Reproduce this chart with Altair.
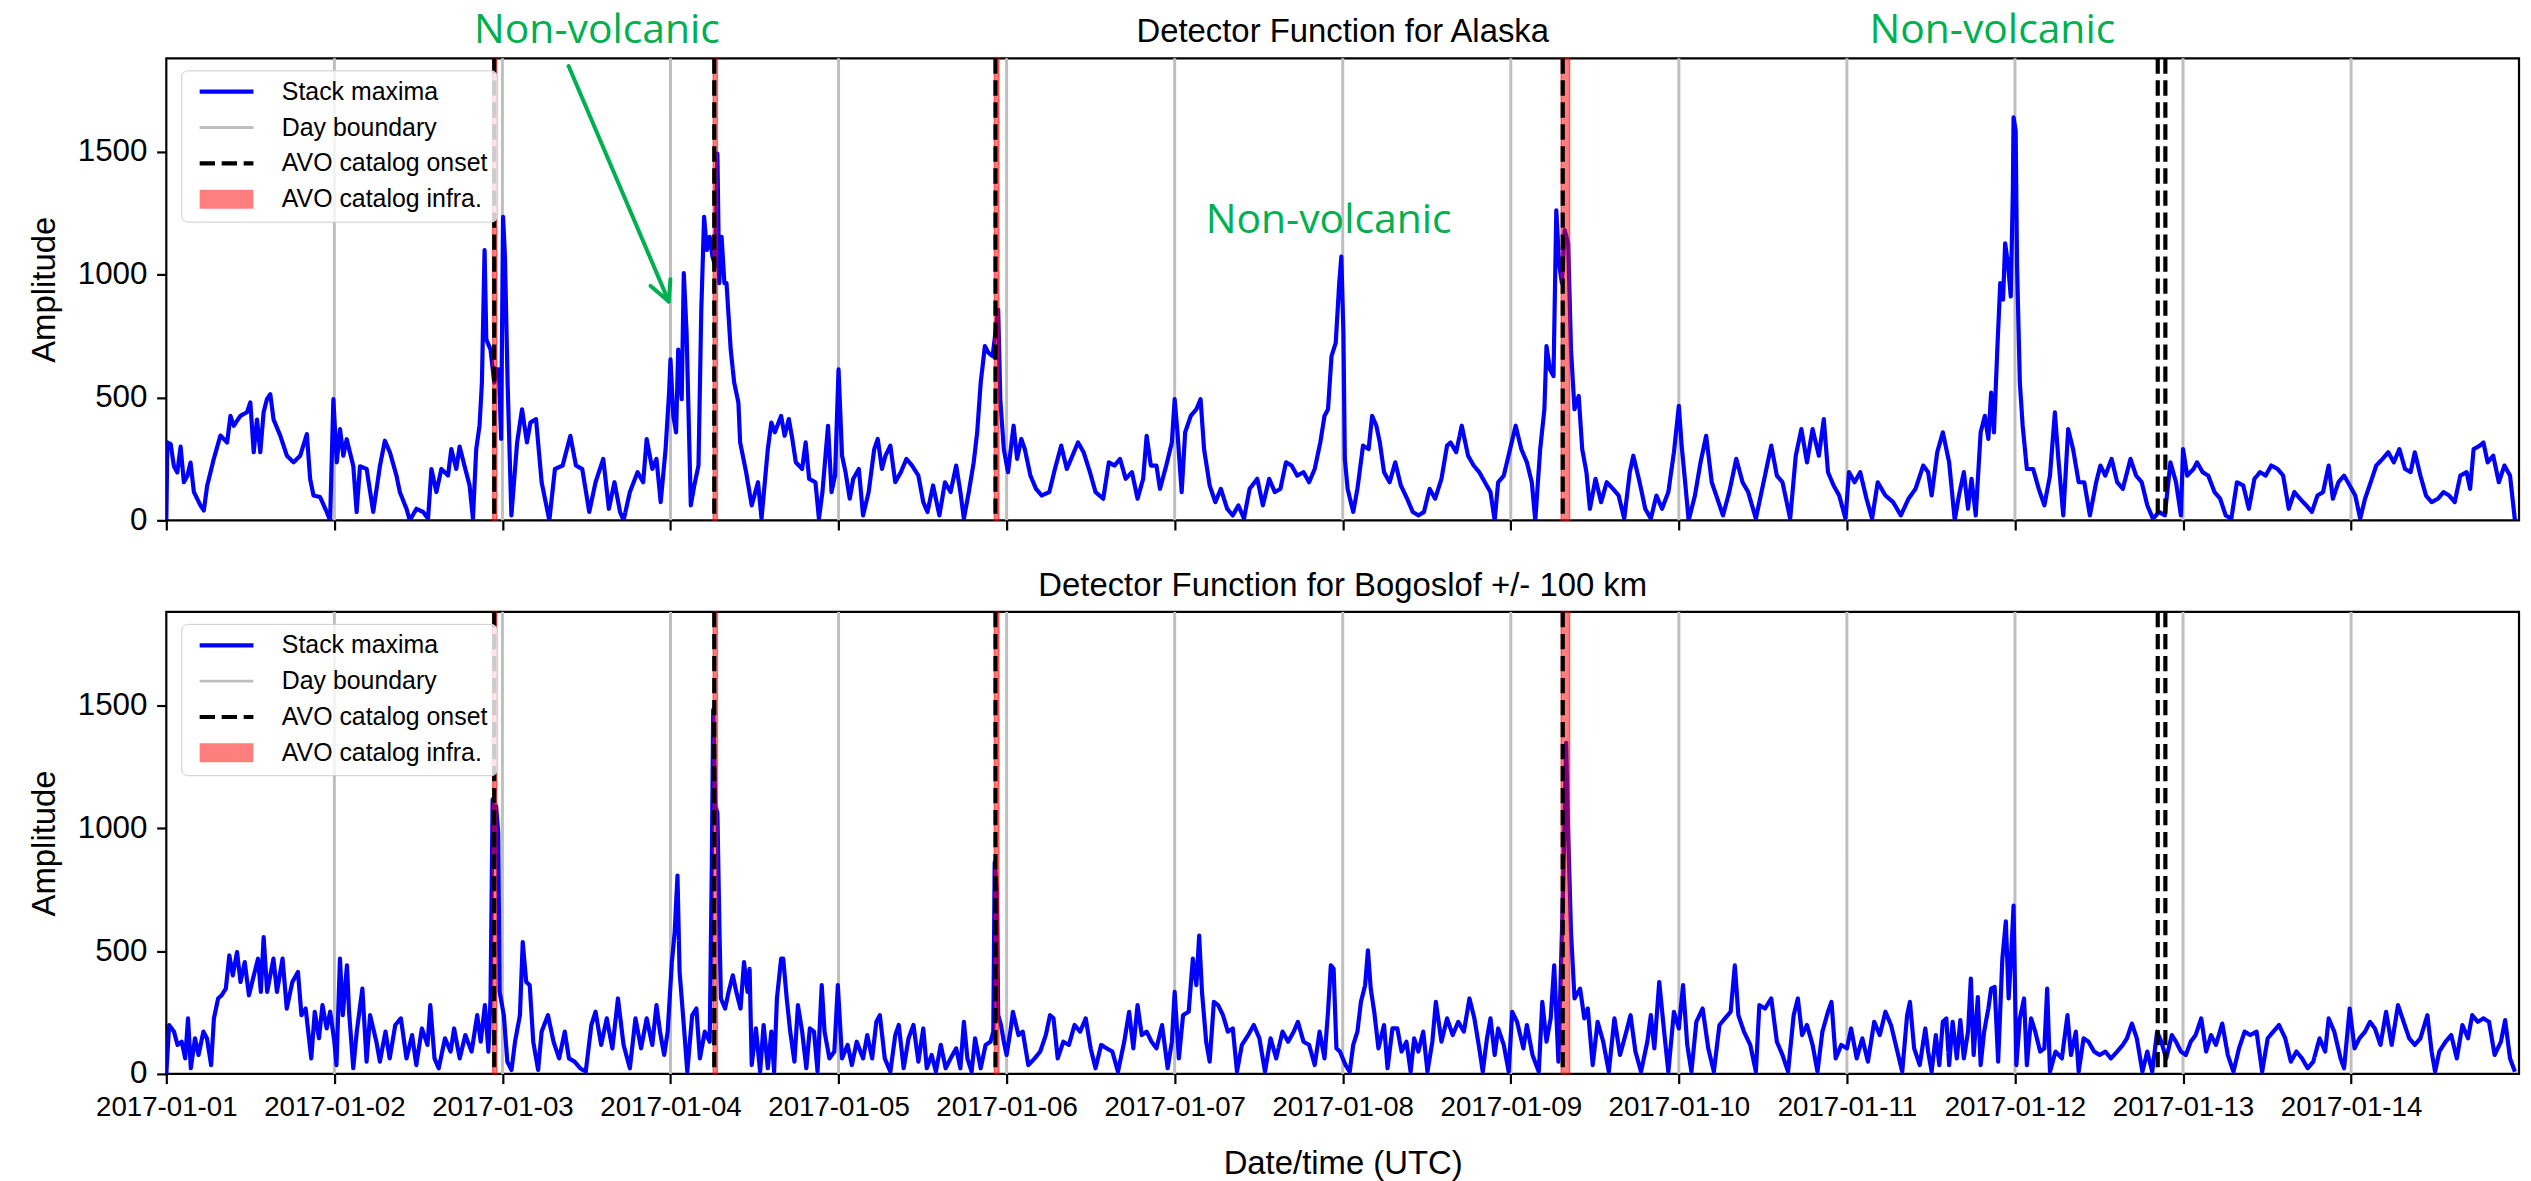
import altair as alt
import pandas as pd

START = pd.Timestamp("2017-01-01 00:00:00")

# Stack maxima, Alaska detector: (hours since 2017-01-01 00:00, amplitude)
alaska_series = [
    (0.0, 0), (0.15, 317), (0.62, 310), (1.09, 220), (1.57, 195), (2.04, 300), (2.51, 155), (2.99, 180),
    (3.46, 235), (3.94, 115), (4.41, 88), (4.89, 60), (5.36, 40), (5.83, 140), (6.78, 250), (7.73, 345),
    (8.68, 317), (9.16, 425), (9.63, 385), (10.58, 425), (11.53, 440), (12.0, 480), (12.48, 277), (12.95, 410),
    (13.42, 277), (13.9, 440), (14.37, 493), (14.85, 513), (15.32, 410), (16.27, 345), (17.22, 263), (18.17, 236),
    (19.12, 263), (20.07, 351), (20.54, 169), (21.02, 101), (21.96, 95), (22.91, 34), (23.39, 0), (23.86, 493),
    (24.34, 236), (24.81, 371), (25.28, 263), (25.76, 330), (26.71, 220), (27.18, 34), (27.66, 220), (28.61, 209),
    (29.55, 34), (30.5, 220), (31.21, 324), (31.93, 277), (32.87, 182), (33.35, 115), (34.3, 47), (34.77, 0),
    (35.72, 47), (36.67, 34), (37.38, 7), (37.86, 209), (38.57, 115), (39.28, 209), (40.23, 182), (40.7, 290),
    (41.41, 209), (41.89, 300), (42.6, 220), (43.31, 142), (43.79, 7), (44.26, 290), (44.73, 385), (45.07, 560),
    (45.45, 1100), (45.7, 736), (46.3, 695), (46.83, 560), (47.1, 614), (47.5, 614), (47.81, 331), (48.09, 1235),
    (48.36, 1073), (48.74, 560), (49.28, 20), (50.1, 317), (50.8, 452), (51.5, 317), (52.0, 398), (52.8, 412),
    (53.6, 155), (54.7, 0), (55.5, 209), (56.6, 223), (57.7, 344), (58.5, 223), (59.4, 209), (60.4, 34),
    (61.3, 155), (62.4, 250), (63.2, 47), (64.0, 155), (64.8, 34), (65.3, 0), (66.2, 115), (67.3, 196),
    (68.1, 155), (68.6, 331), (69.4, 209), (70.0, 250), (70.6, 74), (71.3, 290), (71.8, 520), (72.0, 655),
    (72.4, 425), (72.8, 358), (73.1, 695), (73.6, 493), (73.9, 1006), (74.3, 763), (74.9, 61), (75.4, 142),
    (76.0, 223), (76.4, 857), (76.8, 1235), (77.2, 1100), (77.6, 1154), (78.0, 1073), (78.4, 1033), (78.7, 1492),
    (78.96, 965), (79.3, 1154), (79.7, 965), (80.0, 965), (80.6, 695), (81.1, 560), (81.7, 479), (81.95, 317),
    (82.8, 196), (83.6, 61), (84.5, 155), (85.0, 7), (85.9, 290), (86.4, 398), (86.9, 358), (87.8, 425),
    (88.3, 344), (88.9, 412), (89.4, 331), (89.9, 236), (90.8, 209), (91.3, 317), (91.8, 169), (92.7, 155),
    (93.2, 7), (93.7, 115), (94.5, 385), (95.0, 115), (95.5, 182), (96.0, 614), (96.5, 263), (97.0, 196),
    (97.6, 88), (98.1, 169), (98.9, 209), (99.5, 20), (100.3, 115), (101.1, 290), (101.6, 331), (102.2, 209),
    (102.7, 263), (103.4, 304), (104.1, 155), (104.9, 196), (105.7, 250), (106.5, 223), (107.4, 182), (108.1, 74),
    (108.7, 34), (109.5, 142), (110.4, 20), (111.2, 155), (112.0, 115), (112.8, 223), (113.4, 115), (113.9, 7),
    (114.6, 115), (115.3, 236), (115.8, 358), (116.3, 560), (116.9, 709), (117.4, 682), (118.0, 668), (118.4, 763),
    (118.8, 857), (119.1, 493), (119.6, 290), (120.2, 196), (121.0, 385), (121.5, 250), (122.1, 331), (122.6, 290),
    (123.4, 182), (124.2, 128), (125.0, 101), (126.1, 115), (126.9, 209), (127.8, 304), (128.6, 209), (129.4, 263),
    (130.2, 317), (131.0, 277), (131.9, 196), (132.7, 115), (133.8, 88), (134.6, 236), (135.4, 223), (136.2, 250),
    (137.0, 169), (137.9, 196), (138.7, 88), (139.5, 169), (140.0, 344), (140.6, 223), (141.4, 223), (141.9, 128),
    (142.8, 223), (143.6, 317), (144.0, 493), (144.4, 358), (145.0, 115), (145.5, 358), (146.3, 425), (147.1, 452),
    (147.7, 493), (148.2, 290), (149.0, 142), (149.8, 74), (150.6, 128), (151.5, 47), (152.3, 20), (153.1, 61),
    (153.9, 7), (154.7, 128), (155.8, 169), (156.6, 61), (157.5, 169), (158.3, 115), (159.1, 128), (159.9, 236),
    (160.7, 223), (161.5, 182), (162.4, 196), (163.2, 155), (164.0, 209), (164.8, 317), (165.4, 425), (165.9, 452),
    (166.4, 668), (167.0, 722), (167.5, 965), (167.8, 1073), (168.1, 763), (168.3, 250), (168.7, 128), (169.5, 34),
    (170.1, 128), (170.9, 304), (171.7, 290), (172.2, 425), (172.8, 385), (173.3, 317), (173.9, 196), (174.7, 155),
    (175.5, 236), (176.3, 142), (177.2, 88), (178.0, 34), (178.8, 20), (179.6, 34), (180.4, 128), (181.2, 88),
    (182.1, 169), (182.9, 304), (183.4, 317), (184.2, 277), (185.0, 385), (185.9, 263), (186.7, 223), (187.5, 196),
    (188.3, 155), (189.1, 115), (189.7, 0), (190.2, 155), (191.0, 182), (191.9, 290), (192.7, 385), (193.5, 290),
    (194.3, 236), (195.0, 155), (195.5, 0), (196.2, 290), (196.8, 452), (197.1, 709), (197.6, 614), (198.1, 587),
    (198.5, 1262), (198.9, 1046), (199.3, 965), (199.7, 1181), (200.2, 1127), (200.6, 695), (201.1, 452), (201.7, 506),
    (202.2, 290), (202.8, 196), (203.3, 47), (204.1, 169), (204.9, 74), (205.7, 155), (206.6, 128), (207.4, 101),
    (208.2, 7), (209.0, 196), (209.5, 263), (210.4, 155), (211.2, 47), (212.0, 7), (212.8, 101), (213.6, 47),
    (214.5, 115), (215.3, 277), (216.0, 466), (216.4, 304), (216.9, 155), (217.4, 0), (218.3, 101), (219.1, 236),
    (219.9, 344), (220.7, 155), (221.5, 88), (222.3, 20), (223.2, 115), (224.2, 250), (225.1, 155), (225.9, 115),
    (227.0, 7), (228.1, 155), (229.2, 304), (230.0, 182), (230.8, 155), (231.9, 7), (232.7, 263), (233.5, 371),
    (234.3, 236), (235.1, 371), (236.0, 263), (236.7, 412), (237.3, 196), (238.1, 142), (238.9, 101), (239.8, 7),
    (240.3, 196), (241.1, 155), (241.9, 196), (242.8, 88), (243.6, 7), (244.4, 155), (245.5, 101), (246.6, 74),
    (247.7, 20), (248.8, 88), (249.8, 128), (250.9, 223), (251.6, 196), (252.1, 101), (252.9, 277), (253.7, 358),
    (254.6, 236), (255.4, 0), (256.0, 101), (256.7, 196), (257.3, 47), (257.8, 169), (258.4, 20), (259.1, 358),
    (259.7, 425), (260.2, 331), (260.6, 520), (261.0, 358), (261.5, 709), (261.9, 965), (262.3, 898), (262.6, 1127),
    (263.0, 1046), (263.4, 911), (263.7, 1343), (263.8, 1640), (264.1, 1586), (264.3, 1033), (264.7, 560), (265.1, 385),
    (265.7, 209), (266.6, 209), (267.4, 128), (268.2, 61), (269.0, 182), (269.7, 439), (270.2, 250), (270.9, 20),
    (271.6, 371), (272.3, 290), (273.1, 155), (273.9, 155), (274.7, 20), (275.6, 155), (276.2, 223), (276.9, 182),
    (277.8, 250), (278.6, 155), (279.4, 128), (280.5, 250), (281.3, 182), (282.1, 155), (282.9, 61), (283.7, 7),
    (284.6, 34), (285.4, 20), (286.2, 236), (287.0, 155), (287.7, 20), (288.0, 290), (288.6, 182), (289.5, 209),
    (290.0, 236), (290.8, 196), (291.6, 182), (292.5, 115), (293.3, 88), (294.1, 20), (294.9, 7), (295.7, 155),
    (296.6, 142), (297.4, 47), (298.2, 169), (299.0, 196), (299.8, 182), (300.6, 223), (301.5, 209), (302.3, 182),
    (303.1, 47), (303.9, 115), (304.7, 88), (305.6, 61), (306.4, 34), (307.2, 101), (308.0, 115), (308.8, 223),
    (309.4, 88), (310.2, 155), (311.0, 182), (311.8, 142), (312.6, 101), (313.3, 7), (314.0, 88), (314.8, 155),
    (315.6, 223), (316.5, 250), (317.3, 277), (318.1, 236), (318.9, 290), (319.7, 209), (320.5, 196), (321.1, 277),
    (321.9, 182), (322.7, 101), (323.5, 74), (324.4, 88), (325.2, 115), (326.0, 101), (326.8, 74), (327.6, 182),
    (328.5, 196), (329.0, 128), (329.5, 290), (330.4, 304), (330.9, 317), (331.5, 236), (332.3, 263), (333.1, 155),
    (333.9, 223), (334.7, 182), (335.4, 0),
]

# Stack maxima, Bogoslof +/- 100 km detector
bogoslof_series = [
    (0.0, 0), (0.4, 199), (1.1, 172), (1.6, 118), (2.2, 131), (2.7, 63), (3.1, 226), (3.5, 23),
    (4.1, 145), (4.6, 77), (5.3, 172), (5.8, 145), (6.4, 36), (6.8, 226), (7.4, 307), (7.9, 320),
    (8.5, 347), (9.0, 482), (9.5, 401), (10.1, 496), (10.6, 374), (11.2, 455), (11.8, 320), (12.5, 401),
    (13.1, 469), (13.5, 334), (13.9, 557), (14.4, 334), (15.3, 469), (15.8, 334), (16.6, 469), (17.2, 266),
    (18.0, 374), (18.8, 415), (19.3, 239), (19.9, 266), (20.7, 63), (21.2, 253), (21.8, 145), (22.3, 280),
    (22.9, 185), (23.4, 253), (24.0, 131), (24.3, 36), (24.8, 469), (25.2, 239), (25.8, 442), (26.1, 253),
    (26.7, 23), (27.2, 172), (28.0, 347), (28.6, 50), (29.1, 239), (30.0, 131), (30.5, 50), (31.3, 172),
    (31.9, 63), (32.7, 199), (33.5, 226), (34.3, 63), (35.1, 158), (35.7, 36), (36.5, 185), (37.3, 118),
    (37.7, 280), (38.3, 63), (38.9, 23), (39.8, 145), (40.6, 91), (41.1, 185), (41.9, 63), (42.7, 158),
    (43.6, 91), (44.4, 239), (44.9, 131), (45.5, 280), (46.0, 91), (46.3, 307), (46.6, 1117), (46.8, 874),
    (47.1, 1090), (47.4, 982), (47.6, 334), (48.2, 239), (48.7, 50), (49.3, 16), (49.8, 131), (50.5, 239),
    (50.9, 536), (51.4, 374), (51.9, 361), (52.4, 131), (53.1, 16), (53.6, 172), (54.5, 239), (55.3, 131),
    (56.1, 63), (56.9, 172), (57.5, 63), (58.3, 50), (59.1, 23), (59.9, 9), (60.7, 199), (61.3, 253),
    (62.1, 118), (62.9, 226), (63.7, 104), (64.5, 307), (65.3, 118), (66.2, 23), (67.0, 226), (67.8, 104),
    (68.6, 226), (69.4, 118), (70.0, 280), (70.5, 172), (71.1, 77), (71.6, 172), (72.2, 455), (72.6, 577),
    (73.0, 807), (73.3, 415), (73.9, 199), (74.4, 9), (75.1, 239), (75.7, 266), (76.2, 63), (76.9, 172),
    (77.6, 131), (77.9, 847), (78.1, 1482), (78.4, 1090), (78.7, 1063), (79.0, 577), (79.2, 307), (79.8, 266),
    (80.3, 334), (80.9, 401), (81.4, 334), (82.0, 266), (82.5, 455), (83.0, 334), (83.3, 428), (83.6, 36),
    (84.2, 185), (84.8, 9), (85.3, 199), (85.9, 23), (86.4, 172), (86.8, 9), (87.2, 307), (87.8, 469),
    (88.1, 469), (88.6, 307), (89.1, 172), (89.7, 50), (90.2, 280), (90.8, 172), (91.4, 23), (91.9, 185),
    (92.5, 172), (93.0, 9), (93.6, 361), (94.0, 172), (94.7, 63), (95.4, 91), (95.9, 361), (96.5, 63),
    (97.3, 118), (97.9, 36), (98.6, 131), (99.5, 63), (100.1, 158), (100.8, 63), (101.4, 212), (101.9, 239),
    (102.6, 63), (103.4, 9), (104.1, 158), (104.6, 199), (105.3, 23), (106.0, 145), (106.7, 199), (107.4, 50),
    (108.1, 185), (108.6, 23), (109.3, 77), (109.9, 9), (110.6, 118), (111.3, 23), (112.0, 63), (112.8, 104),
    (113.4, 23), (113.9, 212), (114.4, 63), (115.0, 9), (115.5, 145), (116.3, 23), (117.0, 118), (117.7, 131),
    (118.1, 172), (118.3, 861), (118.6, 753), (118.8, 239), (119.2, 199), (119.6, 131), (120.0, 77), (120.6, 185),
    (120.9, 253), (121.7, 158), (122.3, 172), (123.1, 36), (124.0, 63), (124.8, 91), (125.6, 158), (126.2, 239),
    (126.7, 226), (127.3, 63), (128.1, 131), (128.9, 118), (129.7, 199), (130.5, 172), (131.3, 226), (132.0, 104),
    (132.7, 23), (133.5, 118), (134.3, 104), (135.1, 91), (135.9, 9), (136.8, 131), (137.5, 253), (138.1, 104),
    (138.7, 280), (139.3, 158), (140.0, 172), (140.7, 131), (141.4, 104), (142.2, 199), (143.0, 23), (143.6, 131),
    (144.0, 334), (144.6, 63), (145.2, 239), (146.0, 253), (146.6, 469), (147.1, 361), (147.5, 563), (147.9, 334),
    (148.5, 131), (149.0, 50), (149.6, 293), (150.2, 280), (150.9, 239), (151.6, 172), (152.3, 185), (152.9, 9),
    (153.6, 118), (154.5, 158), (155.3, 199), (156.1, 145), (156.9, 9), (157.7, 145), (158.5, 63), (159.4, 172),
    (160.2, 131), (161.0, 172), (161.6, 212), (162.4, 131), (163.2, 118), (164.0, 36), (164.7, 172), (165.4, 63),
    (165.9, 253), (166.3, 442), (166.7, 428), (167.1, 104), (167.6, 91), (168.4, 36), (169.0, 9), (169.5, 118),
    (170.1, 172), (170.6, 293), (171.2, 361), (171.6, 503), (172.0, 347), (172.5, 253), (173.1, 104), (173.9, 199),
    (174.4, 23), (175.1, 185), (175.8, 185), (176.4, 91), (177.1, 131), (177.7, 9), (178.2, 145), (178.8, 91),
    (179.5, 172), (180.1, 9), (180.8, 131), (181.3, 293), (182.1, 131), (182.9, 226), (183.7, 158), (184.5, 212),
    (185.3, 172), (186.1, 307), (186.8, 226), (187.5, 104), (188.0, 9), (188.6, 145), (189.1, 226), (189.7, 77),
    (190.2, 185), (191.0, 118), (191.7, 9), (192.2, 253), (192.9, 212), (193.8, 104), (194.3, 199), (195.1, 77),
    (196.0, 9), (196.5, 293), (197.1, 131), (197.7, 226), (198.2, 442), (198.8, 50), (199.2, 469), (199.5, 780),
    (199.9, 1347), (200.2, 982), (200.6, 577), (201.1, 307), (201.9, 347), (202.5, 226), (203.0, 266), (203.7, 36),
    (204.4, 212), (205.2, 131), (206.0, 9), (206.8, 226), (207.6, 77), (208.5, 172), (209.1, 239), (209.8, 91),
    (210.6, 9), (211.5, 131), (212.0, 239), (212.5, 104), (213.2, 374), (213.9, 172), (214.5, 9), (215.3, 253),
    (216.0, 185), (216.6, 361), (217.2, 118), (217.8, 9), (218.5, 212), (219.4, 266), (220.2, 104), (221.0, 9),
    (221.8, 199), (222.6, 226), (223.4, 253), (224.0, 442), (224.5, 239), (225.3, 172), (226.2, 118), (227.0, 9),
    (227.5, 280), (228.3, 266), (229.2, 307), (230.0, 131), (230.8, 77), (231.6, 9), (232.4, 239), (233.0, 307),
    (233.6, 158), (234.3, 199), (235.1, 118), (235.8, 9), (236.5, 172), (237.3, 253), (237.8, 293), (238.4, 63),
    (239.2, 118), (240.0, 104), (240.6, 185), (241.4, 63), (242.2, 145), (243.0, 50), (243.9, 212), (244.7, 158),
    (245.5, 253), (246.3, 199), (247.1, 104), (247.9, 9), (248.6, 239), (249.0, 293), (249.6, 104), (250.4, 36),
    (251.2, 185), (251.6, 91), (252.1, 9), (252.7, 158), (253.2, 36), (253.7, 212), (254.2, 226), (254.6, 36),
    (255.1, 212), (255.7, 63), (256.2, 219), (256.7, 63), (257.3, 172), (257.7, 388), (258.1, 77), (258.7, 313),
    (259.1, 36), (259.6, 172), (260.2, 266), (260.6, 347), (261.1, 354), (261.6, 50), (262.2, 469), (262.7, 621),
    (263.1, 307), (263.5, 509), (263.8, 685), (264.2, 36), (264.7, 226), (265.3, 307), (265.7, 36), (266.3, 226),
    (266.9, 172), (267.6, 91), (268.2, 104), (268.6, 347), (269.0, 9), (269.8, 91), (270.7, 63), (271.5, 239),
    (272.0, 77), (272.7, 172), (273.1, 9), (273.8, 145), (274.5, 131), (275.3, 91), (276.1, 77), (276.9, 91),
    (277.7, 63), (278.6, 91), (279.4, 118), (280.0, 145), (280.7, 205), (281.4, 145), (282.2, 9), (282.9, 91),
    (283.6, 9), (284.3, 172), (284.9, 131), (285.6, 63), (286.4, 158), (287.0, 131), (287.7, 91), (288.4, 77),
    (289.1, 131), (289.8, 158), (290.6, 226), (291.3, 91), (292.0, 158), (292.7, 118), (293.6, 205), (294.4, 77),
    (295.2, 9), (296.0, 104), (296.8, 172), (297.6, 158), (298.5, 172), (299.3, 9), (300.1, 145), (300.9, 172),
    (301.7, 199), (302.6, 145), (303.4, 50), (304.2, 91), (305.0, 63), (305.8, 23), (306.6, 50), (307.5, 145),
    (308.3, 91), (308.8, 226), (309.6, 172), (310.5, 63), (311.0, 23), (311.8, 266), (312.5, 104), (313.2, 145),
    (314.0, 172), (314.7, 212), (315.4, 185), (316.2, 118), (317.0, 253), (317.8, 118), (318.7, 280), (319.5, 212),
    (320.3, 145), (321.1, 118), (321.9, 145), (322.9, 239), (323.5, 91), (324.0, 9), (324.6, 91), (325.5, 131),
    (326.3, 158), (327.1, 63), (327.9, 199), (328.7, 145), (329.3, 239), (330.1, 212), (330.9, 226), (331.7, 212),
    (332.5, 77), (333.4, 131), (334.0, 219), (334.7, 63), (335.4, 9),
]

# Vertical markers (hours since start)
day_boundary_hours = [24, 48, 72, 96, 120, 144, 168, 192, 216, 240, 264, 288, 312]
onset_hours = [46.83, 78.25, 118.41, 199.42, 284.39, 285.48]
infra_start_hours = [46.6, 78.1, 118.25, 199.2]
infra_end_hours = [47.2, 78.7, 118.9, 200.4]

# Panel titles (placed just above each panel, centred on the time axis)
panel_titles = ["Detector Function for Alaska", "Detector Function for Bogoslof +/- 100 km"]
title_hours = [168.0]
title_amp = [1945]

# Green annotations on the Alaska panel
note_labels = ["Non-volcanic", "Non-volcanic", "Non-volcanic"]
note_hours = [61.5, 165.99, 260.77]
note_amp = [1942, 1168, 1942]
arrow_h1 = [57.45, 71.75, 71.75]
arrow_a1 = [1849, 891, 891]
arrow_h2 = [71.75, 69.16, 71.99]
arrow_a2 = [891, 954, 981]

KINDS = ["Stack maxima", "Day boundary", "AVO catalog onset", "AVO catalog infra."]
Y_TICKS = [0, 500, 1000, 1500]

W, H = 2363, 464
FONT = "Liberation Sans"
GREEN = "#00B050"


def t(hours):
    return [START + pd.Timedelta(hours=h) for h in hours]


x_scale = alt.Scale(domain=[alt.DateTime(year=2017, month=1, date=1),
                            alt.DateTime(year=2017, month=1, date=14, hours=23, minutes=59)])
y_scale = alt.Scale(domain=[0, 1880], nice=False, zero=False)

legend = alt.Legend(
    title=None, orient="none", legendX=15, legendY=12, direction="vertical",
    symbolType="stroke", symbolSize=2916, clipHeight=25, labelFontSize=25, labelFont=FONT, labelColor="black",
    labelLimit=600, labelOffset=19, rowPadding=10, padding=9,
    fillColor="rgba(255,255,255,0.8)", strokeColor="#cccccc", cornerRadius=6,
)
color_enc = alt.Color("kind:N", scale=alt.Scale(domain=KINDS, range=["#0000ff", "#bfbfbf", "#000000", "#ff0000"]), legend=legend)
dash_enc = alt.StrokeDash("kind:N", scale=alt.Scale(domain=KINDS, range=[[1, 0], [1, 0], [15.4, 6.7], [1, 0]]), legend=legend)
sw_enc = alt.StrokeWidth("kind:N", scale=alt.Scale(type="ordinal", domain=KINDS, range=[4.2, 3, 4.2, 19]), legend=legend)
op_enc = alt.Opacity("kind:N", scale=alt.Scale(type="ordinal", domain=KINDS, range=[1, 1, 1, 0.5]), legend=legend)


def x_axis(bottom):
    if bottom:
        return alt.Axis(format="%Y-%m-%d", tickCount={"interval": "day", "step": 1}, labelFontSize=27.8,
                        labelFlush=False, labelOverlap=False, title="Date/time (UTC)", titleFontSize=33,
                        titleX=W / 2, titleY=100, titleBaseline="alphabetic", titleAlign="center")
    return alt.Axis(tickCount={"interval": "day", "step": 1}, labels=False, title=None)


y_axis = alt.Axis(values=Y_TICKS, format="d", labelFontSize=31.5, title="Amplitude", titleFontSize=33,
                  titleX=-112.4, titleY=H / 2, titleAngle=270, titleBaseline="alphabetic", titleAlign="center")


def panel(series, title, bottom, annotate):
    xa = x_axis(bottom)
    ttl = "Date/time (UTC)" if bottom else None

    def X(f):
        return alt.X(f, type="temporal", scale=x_scale, axis=xa, title=ttl)

    def Y(f):
        return alt.Y(f, type="quantitative", scale=y_scale, axis=y_axis, title="Amplitude")

    line_df = pd.DataFrame({"time": t([p[0] for p in series]), "amp": [p[1] for p in series], "kind": "Stack maxima"})
    day_df = pd.DataFrame({"time": t(day_boundary_hours), "kind": "Day boundary"})
    onset_df = pd.DataFrame({"time": t(onset_hours), "kind": "AVO catalog onset"})
    infra_df = pd.DataFrame({"start": t(infra_start_hours), "end": t(infra_end_hours)})
    title_df = pd.DataFrame({"time": t(title_hours), "amp": title_amp, "label": [title]})

    days = alt.Chart(day_df).mark_rule().encode(
        x=X("time"), color=color_enc, strokeDash=dash_enc, strokeWidth=sw_enc, opacity=op_enc)
    line = alt.Chart(line_df).mark_line(strokeJoin="round", clip=True).encode(
        x=X("time"), y=Y("amp"), color=color_enc, strokeDash=dash_enc, strokeWidth=sw_enc, opacity=op_enc)
    infra = alt.Chart(infra_df).mark_rect(fill="#ff0000", fillOpacity=0.5, stroke="#ff0000",
                                          strokeOpacity=0.5, strokeWidth=1.5).encode(
        x=X("start"), x2="end")
    onset = alt.Chart(onset_df).mark_rule().encode(
        x=X("time"), color=color_enc, strokeDash=dash_enc, strokeWidth=sw_enc, opacity=op_enc)
    ttext = alt.Chart(title_df).mark_text(font=FONT, fontSize=33, color="black",
                                          baseline="alphabetic", align="center").encode(
        x=X("time"), y=Y("amp"), text="label:N")

    layers = [days, line, infra, onset, ttext]
    if annotate:
        note_df = pd.DataFrame({"time": t(note_hours), "amp": note_amp, "label": note_labels})
        arrow_df = pd.DataFrame({"t1": t(arrow_h1), "a1": arrow_a1, "t2": t(arrow_h2), "a2": arrow_a2})
        notes = alt.Chart(note_df).mark_text(font="Open Sans", fontSize=41, color=GREEN,
                                             baseline="alphabetic", align="center").encode(
            x=X("time"), y=Y("amp"), text="label:N")
        arrow = alt.Chart(arrow_df).mark_rule(color=GREEN, strokeWidth=4, strokeCap="round").encode(
            x=X("t1"), x2="t2", y=Y("a1"), y2="a2")
        layers += [arrow, notes]

    return alt.layer(*layers).properties(width=W, height=H)


top = panel(alaska_series, panel_titles[0], bottom=False, annotate=True)
bot = panel(bogoslof_series, panel_titles[1], bottom=True, annotate=False)

chart = alt.vconcat(top, bot, spacing=92, bounds="flush").resolve_scale(
    color="independent", strokeDash="independent", strokeWidth="independent", opacity="independent"
).properties(
    padding={"left": 19, "top": -2, "right": 2, "bottom": 0},
    background="white",
).configure_view(
    stroke="black", strokeWidth=2.2
).configure_axis(
    domain=False, grid=False, tickColor="black", tickWidth=2.2, tickSize=9.7, labelPadding=9.7,
    labelColor="black", titleColor="black", labelFont=FONT, titleFont=FONT, titleFontWeight="normal",
)

chart.save("out.html", embed_options={"renderer": "svg", "actions": False})
